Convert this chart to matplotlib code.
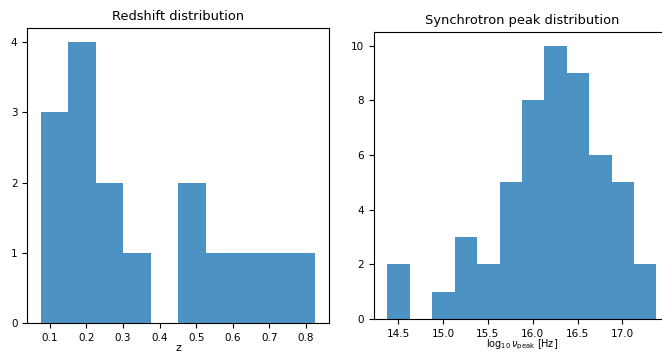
import matplotlib.pyplot as plt
import numpy as np

# histogram bins and counts
z_edges = [0.0755, 0.1505, 0.2255, 0.3005, 0.3755, 0.4505, 0.5255, 0.6005, 0.6755, 0.7505, 0.8255]
z_counts = [3, 4, 2, 1, 0, 2, 1, 1, 1, 1]

nu_edges = [14.38, 14.63, 14.88, 15.13, 15.38, 15.63, 15.88, 16.13, 16.38, 16.63, 16.88, 17.13, 17.38]
nu_counts = [2, 0, 1, 3, 2, 5, 8, 10, 9, 6, 5, 2]

fig = plt.figure(figsize=(6.62, 3.56), dpi=100)
ax1 = fig.add_axes([0.041, 0.093, 0.456, 0.828])
ax2 = fig.add_axes([0.565, 0.104, 0.447, 0.806])

# left: redshift
ax1.bar(z_edges[:-1], z_counts, width=np.diff(z_edges), align='edge', color='C0', alpha=0.8)
ax1.set_title('Redshift distribution', fontsize=9.4)
ax1.set_xlabel('z', fontsize=8, labelpad=0)
ax1.set_xticks([0.1, 0.2, 0.3, 0.4, 0.5, 0.6, 0.7, 0.8])
ax1.set_yticks([0, 1, 2, 3, 4])
ax1.tick_params(labelsize=7.5)

# right: synchrotron peak
ax2.bar(nu_edges[:-1], nu_counts, width=np.diff(nu_edges), align='edge', color='C0', alpha=0.8)
ax2.set_title('Synchrotron peak distribution', fontsize=9.4)
ax2.set_xlabel(r'$\log_{10}\nu_{\rm peak}$ [Hz]', fontsize=7, labelpad=-1)
ax2.set_xticks([14.5, 15.0, 15.5, 16.0, 16.5, 17.0])
ax2.set_yticks([0, 2, 4, 6, 8, 10])
ax2.tick_params(labelsize=7.5)

fig.savefig('out.png', dpi=100)
